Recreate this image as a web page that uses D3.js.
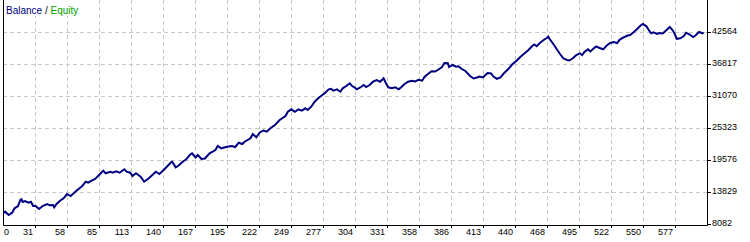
<!DOCTYPE html>
<html>
<head>
<meta charset="utf-8">
<script src="https://cdn.jsdelivr.net/npm/d3@7"></script>
<style>
  body { margin: 0; background: #fff; }
  svg { display: block; }
</style>
</head>
<body>
<script>
// trade number and balance
const trades = [0,1,4,7,9,12,14,15,16,18,21,23,25,27,30,33,37,39,42,43,45,48,51,54,57,59,62,67,70,72,75,78,82,85,87,91,93,96,99,103,105,108,110,113,115,117,120,124,127,130,133,136,139,143,144,147,149,153,156,159,
  161,164,166,169,172,176,181,183,186,191,195,198,201,204,206,211,
  213,216,219,222,225,228,232,236,241,243,246,249,252,255,258,260,263,266,269,272,275,278,280,282,285,288,290,293,296,298,300,302,305,308,310,313,316,319,322,325,327,329,332,335,338,340,343,346,349,352,355,358,360,363,366,369,372,375,377,380,381,384,387,389,392,395,399,402,405,407,410,414,417,419,422,425,
  428,432,435,439,442,446,449,452,454,456,459,462,465,466,467,470,473,476,479,482,484,487,490,493,495,497,500,502,505,507,510,513,516,519,522,525,527,530,534,536,539,542,545,547,550,552,554,556,559,561,564,567,570,572,574,576,579,582,584,587,590,592,595,598,599];
const balance = [10111,10291,9698,10111,10902,11315,12392,12518,12033,12213,11907,12087,11315,11300,10776,11315,11674,11440,11494,11081,11674,12266,12697,13470,13111,13480,14062,14906,15679,15499,15858,16164,17008,17654,17187,17475,17295,17546,17295,17906,17475,17295,16702,17187,16882,16577,15679,16289,16882,17475,17062,17654,18265,19163,19270,18265,18498,19270,19702,20474,
  20779,20025,20474,19755,19845,20779,21372,22090,21677,21964,22090,21910,22683,22449,22862,23473,
  24245,23652,24515,24874,24658,25269,25861,26759,27478,28250,28681,28250,28681,28430,28861,28555,29148,30046,30656,31159,31662,32273,32362,32021,32273,31842,32452,32865,33350,32865,32632,32273,32596,33045,32686,33045,33638,33943,33638,34248,33350,32632,32452,32632,32273,32640,33225,33638,33817,33674,33997,33817,34482,35021,35523,35469,35829,36278,36996,36942,36278,36637,36332,36403,35918,35559,34661,34212,34392,34572,34392,35200,35110,34572,34158,34428,
  35146,35954,36727,37445,38074,38792,39331,39995,40318,40013,40642,41127,41522,41719,41342,40498,39546,38612,37804,37535,37445,37840,38433,38738,38433,39025,39456,39061,39636,39959,39690,39456,40139,40588,40767,40580,41162,41540,41935,42025,42527,43102,43731,44000,43587,42922,42330,42510,42204,42384,42294,42869,43461,43012,42330,41342,41432,41845,42438,42114,41665,41935,42563,42330,42438];

const xTickLabels = ["0","31","58","85","113","140","167","195","222","249","277","304","331","358","386","413","440","468","495","522","550","577"];
const yTickValues = [8082,13829,19576,25323,31070,36817,42564];

const W = 750, H = 242;
const left = 3, right = 707, bottom = 224;
const font = "'Liberation Sans', Arial, sans-serif";

const svg = d3.select("body").append("svg")
  .attr("width", W)
  .attr("height", H);

const x = d3.scaleLinear().domain([0, 601]).range([4, 706]);
const gridX = d3.scaleLinear().domain([0, 22]).range([left, right]);
const y = d3.scaleLinear().domain([8082, 42564]).range([224, 32]);

const px = v => Math.round(v) + 0.5;
const gridIdx = d3.range(1, xTickLabels.length);

// grid
svg.append("g").selectAll("line").data(gridIdx).join("line")
  .attr("x1", i => px(gridX(i))).attr("x2", i => px(gridX(i)))
  .attr("y1", 0).attr("y2", bottom)
  .attr("stroke", "#c8c8c8").attr("stroke-dasharray", "4,3");
svg.append("g").selectAll("line").data(yTickValues.slice(1)).join("line")
  .attr("x1", left).attr("x2", right)
  .attr("y1", d => px(y(d))).attr("y2", d => px(y(d)))
  .attr("stroke", "#c8c8c8").attr("stroke-dasharray", "4,3");

// balance line
const pts = trades.map((t, i) => ({ t: t, v: balance[i] }));
svg.append("path")
  .datum(pts)
  .attr("fill", "none")
  .attr("stroke", "#000080")
  .attr("stroke-width", 2)
  .attr("stroke-linejoin", "miter")
  .attr("d", d3.line().x(d => x(d.t)).y(d => y(d.v)));

// frame
svg.append("path")
  .attr("d", `M${left + 0.5},0V${bottom + 1.5}H${right + 0.5}V0`)
  .attr("fill", "none").attr("stroke", "#000");

// ticks on the right and bottom
svg.append("g").selectAll("line").data(yTickValues).join("line")
  .attr("x1", right).attr("x2", right + 4)
  .attr("y1", d => px(y(d))).attr("y2", d => px(y(d)))
  .attr("stroke", "#000");
svg.append("g").selectAll("line").data(gridIdx).join("line")
  .attr("x1", i => px(gridX(i))).attr("x2", i => px(gridX(i)))
  .attr("y1", bottom + 1).attr("y2", bottom + 4)
  .attr("stroke", "#000");

// labels
svg.append("g").selectAll("text").data(yTickValues).join("text")
  .attr("x", right + 5)
  .attr("y", d => y(d) + 2)
  .attr("font-family", font).attr("font-size", 9)
  .attr("fill", "#000")
  .text(d => d);
svg.append("g").selectAll("text").data(xTickLabels).join("text")
  .attr("x", (d, i) => i === 0 ? gridX(i) + 1 : gridX(i) - 2)
  .attr("y", 235)
  .attr("text-anchor", (d, i) => i === 0 ? "start" : "end")
  .attr("font-family", font).attr("font-size", 9)
  .attr("fill", "#000")
  .text(d => d);

// legend
svg.append("rect").attr("x", 4).attr("y", 0).attr("width", 70).attr("height", 16).attr("fill", "#fff");
const legend = svg.append("text")
  .attr("x", 6).attr("y", 14)
  .attr("font-family", font).attr("font-size", 10);
legend.append("tspan").attr("fill", "#000080").text("Balance");
legend.append("tspan").attr("fill", "#000").text(" / ");
legend.append("tspan").attr("fill", "#00a000").text("Equity");
</script>
</body>
</html>
